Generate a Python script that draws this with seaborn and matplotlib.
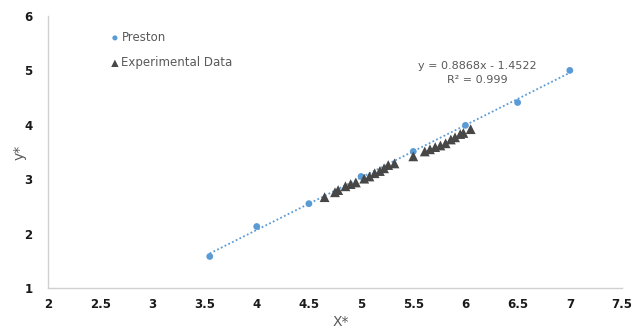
import matplotlib
matplotlib.use("Agg")
import matplotlib.pyplot as plt
import seaborn as sns
import pandas as pd

# Preston reference values
preston_x = [3.55, 4.0, 4.5, 5.0, 5.5, 6.0, 6.5, 7.0]
preston_y = [1.58, 2.13, 2.55, 3.05, 3.51, 3.99, 4.41, 5.0]

# Experimental measurements
exp_x = [4.65, 4.75, 4.78, 4.85, 4.90, 4.95, 5.03, 5.08, 5.13, 5.18, 5.22, 5.26, 5.32,
         5.50, 5.61, 5.66, 5.71, 5.76, 5.81, 5.86, 5.90, 5.95, 5.98, 6.05]
exp_y = [2.67, 2.76, 2.80, 2.87, 2.91, 2.94, 3.01, 3.05, 3.11, 3.15, 3.20, 3.26, 3.29,
         3.42, 3.51, 3.55, 3.59, 3.62, 3.66, 3.73, 3.77, 3.83, 3.85, 3.92]

x_ticks = [2, 2.5, 3, 3.5, 4, 4.5, 5, 5.5, 6, 6.5, 7, 7.5]
y_ticks = [1, 2, 3, 4, 5, 6]
fit_label = "y = 0.8868x - 1.4522\nR\u00b2 = 0.999"

blue = "#5B9BD5"
dark = "#474747"
text_grey = "#595959"

sns.set_theme(style="white")
plt.rcParams["font.family"] = ["DejaVu Sans"]

preston = pd.DataFrame({"x": preston_x, "y": preston_y})
experimental = pd.DataFrame({"x": exp_x, "y": exp_y})

fig = plt.figure(figsize=(6.39, 3.32), dpi=100)
ax = fig.add_axes([48 / 639, 1 - 288 / 332, (622 - 48) / 639, (288 - 16) / 332])

sns.regplot(data=preston, x="x", y="y", ax=ax, scatter=False, ci=None,
            line_kws=dict(color=blue, lw=1.3, ls=(0, (1, 1.3))))
sns.scatterplot(data=preston, x="x", y="y", ax=ax, color=blue, marker="o",
                s=24, edgecolor="none", label="Preston", zorder=3)
sns.scatterplot(data=experimental, x="x", y="y", ax=ax, color=dark, marker="^",
                s=50, edgecolor="none", label="Experimental Data", zorder=4)

ax.set_xlim(2, 7.5)
ax.set_ylim(1, 6)
ax.set_xticks(x_ticks)
ax.set_xticklabels([f"{t:g}" for t in x_ticks])
ax.set_yticks(y_ticks)
ax.set_yticklabels([f"{t:g}" for t in y_ticks])
ax.tick_params(axis="both", length=0, labelsize=8.5, labelcolor="#1a1a1a")
ax.tick_params(axis="x", pad=7)
ax.tick_params(axis="y", pad=11)
for lbl in ax.get_xticklabels() + ax.get_yticklabels():
    lbl.set_fontweight("bold")

for side in ("top", "right"):
    ax.spines[side].set_visible(False)
for side in ("left", "bottom"):
    ax.spines[side].set_color("#d0d0d0")
    ax.spines[side].set_linewidth(1.0)

ax.set_xlabel("X*", fontsize=10, color=text_grey)
ax.xaxis.set_label_coords(0.51, -0.1)
ax.set_ylabel("y*", fontsize=10, color=text_grey)
ax.yaxis.set_label_coords(-0.037, 0.5)

ax.text(6.11, 4.95, fit_label, ha="center", va="center", fontsize=8,
        color=text_grey, linespacing=1.45)

leg = ax.legend(loc="upper left", bbox_to_anchor=(109 / 639, 1 - 31 / 332),
                bbox_transform=fig.transFigure, frameon=False, fontsize=8.5,
                handletextpad=0.05, labelspacing=1.05, handlelength=1.0,
                markerscale=0.75, borderaxespad=0, borderpad=0)
for t in leg.get_texts():
    t.set_color(text_grey)

fig.savefig("out.png", dpi=100)
